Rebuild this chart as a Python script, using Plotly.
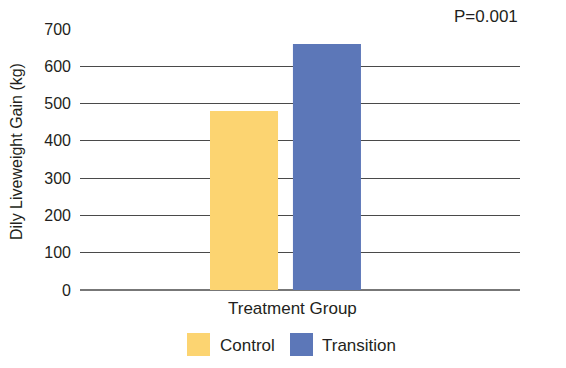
import plotly.graph_objects as go

categories = ["Treatment Group"]
groups = ["Control", "Transition"]
control_values = [480]
transition_values = [660]
colors = {"Control": "#FCD471", "Transition": "#5C77B8"}
y_ticks = [0, 100, 200, 300, 400, 500, 600, 700]

FONT = "Liberation Sans, Arial, Helvetica, sans-serif"
TXT = "#231F20"

# page has an 8px body margin; figure sized to fit the 566x368 window
OFF = 8
PL, PT, PW, PH = 80 - OFF, 29 - OFF, 440, 261
W, H = 566 - OFF, 368 - OFF


def px_x(x):
    return (x - 80) / PW


def px_y(y):
    return (290 - y) / PH


fig = go.Figure()
fig.add_trace(go.Bar(x=categories, y=control_values, name="Control",
                     marker=dict(color=colors["Control"], line=dict(width=0))))
fig.add_trace(go.Bar(x=categories, y=transition_values, name="Transition",
                     marker=dict(color=colors["Transition"], line=dict(width=0))))

fig.update_layout(
    width=W, height=H,
    margin=dict(l=PL, r=W - PL - PW, t=PT, b=H - PT - PH, pad=0),
    paper_bgcolor="white", plot_bgcolor="white",
    barmode="group", bargap=0.623, bargroupgap=0.18,
    showlegend=False,
    font=dict(family=FONT, size=16, color=TXT),
)
fig.update_xaxes(type="category", range=[-0.467, 0.533], showticklabels=False,
                 showgrid=False, showline=False, zeroline=False, ticks="")
fig.update_yaxes(range=[0, 700], tickvals=y_ticks, showgrid=True, gridcolor="#4a4a4a",
                 gridwidth=1, zeroline=True, zerolinecolor="#777777", zerolinewidth=1.5,
                 showline=False, ticks="", ticklabelstandoff=8,
                 tickfont=dict(family=FONT, size=16, color=TXT))

fig.add_annotation(text="Dily Liveweight Gain (kg)", textangle=-90, xref="paper", yref="paper",
                   x=px_x(16), y=px_y(152), xanchor="center", yanchor="middle", showarrow=False,
                   borderpad=0, font=dict(family=FONT, size=16, color=TXT))
fig.add_annotation(text="Treatment Group", xref="paper", yref="paper",
                   x=px_x(292), y=px_y(308), xanchor="center", yanchor="middle",
                   showarrow=False, font=dict(family=FONT, size=17, color=TXT))
fig.add_annotation(text="P=0.001", xref="paper", yref="paper", x=1.0, y=px_y(16),
                   xanchor="right", yanchor="middle", showarrow=False,
                   font=dict(family=FONT, size=17, color=TXT))

legend_items = [("Control", 187, 218), ("Transition", 290, 320)]
for name, sx, tx in legend_items:
    fig.add_shape(type="rect", xref="paper", yref="paper",
                  x0=px_x(sx), x1=px_x(sx + 23), y0=px_y(356), y1=px_y(333),
                  fillcolor=colors[name], line=dict(width=0))
    fig.add_annotation(text=name, xref="paper", yref="paper", x=px_x(tx),
                       y=px_y(345), xanchor="left", yanchor="middle", showarrow=False,
                       font=dict(family=FONT, size=17, color=TXT))

fig.write_html("out.html")
